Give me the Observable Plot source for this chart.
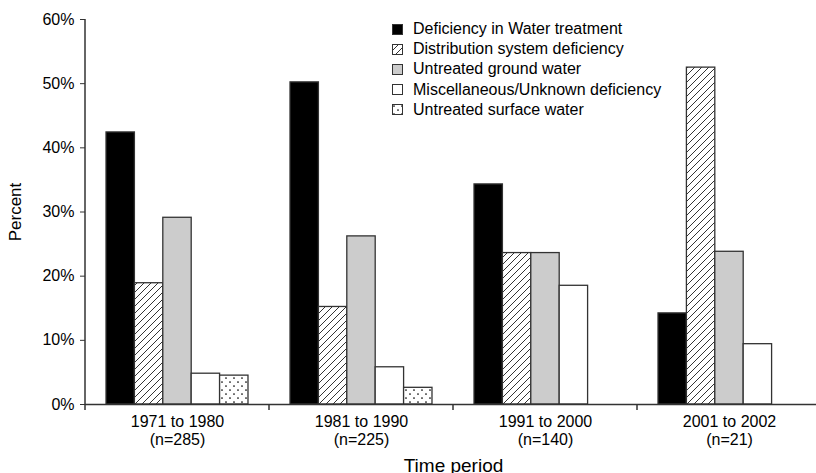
<!DOCTYPE html>
<html><head><meta charset="utf-8">
<script src="https://cdn.jsdelivr.net/npm/d3@7"></script>
<script src="https://cdn.jsdelivr.net/npm/@observablehq/plot@0.6"></script>
<style>
body{margin:0;background:#fff;overflow:hidden;}
#wrap{position:relative;width:816px;height:473px;font-family:"Liberation Sans",Arial,sans-serif;}
#legend{position:absolute;left:392px;top:19px;font-size:16px;color:#000;}
.row{display:flex;align-items:center;height:20.2px;white-space:nowrap;}
.row svg{margin-right:10px;display:block;}
</style></head><body><div id="wrap"><div id="legend"></div></div>
<script>
const periods = ["1971 to 1980", "1981 to 1990", "1991 to 2000", "2001 to 2002"];
const periodCounts = ["(n=285)", "(n=225)", "(n=140)", "(n=21)"];
const categories = [
  "Deficiency in Water treatment",
  "Distribution system deficiency",
  "Untreated ground water",
  "Miscellaneous/Unknown deficiency",
  "Untreated surface water"
];
const waterTreatment = [42.4, 50.2, 34.3, 14.2];
const distribution   = [18.9, 15.2, 23.6, 52.5];
const groundWater    = [29.1, 26.2, 23.6, 23.8];
const miscUnknown    = [4.8, 5.8, 18.5, 9.4];
const surfaceWater   = [4.5, 2.6, 0, 0];
const yTicks = [0, 10, 20, 30, 40, 50, 60];

const series = [waterTreatment, distribution, groundWater, miscUnknown, surfaceWater];
const fills = ["#000000", "url(#hatch)", "#cccccc", "#ffffff", "url(#dots)"];

const data = [];
periods.forEach((p, i) => categories.forEach((c, j) => {
  if (series[j][i] > 0) data.push({period: p, category: c, value: series[j][i]});
}));

const plot = Plot.plot({
  width: 816, height: 473,
  marginLeft: 85, marginRight: 0, marginTop: 19, marginBottom: 69,
  style: {fontFamily: "Liberation Sans, Arial, sans-serif", fontSize: "16px", color: "#000", background: "white", overflow: "visible"},
  fx: {domain: periods, padding: 0, range: [85, 821], round: false},
  x: {domain: categories, paddingInner: 0, paddingOuter: 0.74, axis: null, round: false},
  y: {domain: [0, 60]},
  color: {type: "ordinal", domain: categories, range: fills},
  marks: [
    Plot.barY(data, {fx: "period", x: "category", y: "value", fill: "category", stroke: "#333", strokeWidth: 1.3}),
    Plot.ruleY([0], {stroke: "#333", strokeWidth: 1.5}),
    Plot.axisY({ticks: yTicks, tickFormat: d => d + "%", tickSize: 5, tickPadding: 6, stroke: "#333",
      fontSize: 16, label: null}),
    Plot.axisY({ticks: [], label: "Percent", labelAnchor: "center", labelArrow: "none", labelOffset: 77, fontSize: 17}),
    Plot.axisFx({anchor: "bottom", tickSize: 0, tickPadding: 9, lineHeight: 1.15, fontSize: 16,
      tickFormat: d => d + "\n" + periodCounts[periods.indexOf(d)], label: null}),
    Plot.axisFx({anchor: "bottom", ticks: [], label: "Time period", labelAnchor: "center", labelArrow: "none", labelOffset: 67, fontSize: 19})
  ]
});

const svg = d3.select(plot);
const defs = svg.insert("defs", ":first-child");
function addPatterns(defs, suffix) {
  const h = defs.append("pattern").attr("id", "hatch" + suffix).attr("patternUnits", "userSpaceOnUse")
    .attr("width", 7).attr("height", 7);
  h.append("rect").attr("width", 7).attr("height", 7).attr("fill", "white");
  h.append("path").attr("d", "M0,7 L7,0 M-1.75,1.75 L1.75,-1.75 M5.25,8.75 L8.75,5.25")
    .attr("stroke", "#000").attr("stroke-width", 0.8);
  const d = defs.append("pattern").attr("id", "dots" + suffix).attr("patternUnits", "userSpaceOnUse")
    .attr("width", 8).attr("height", 8);
  d.append("rect").attr("width", 8).attr("height", 8).attr("fill", "white");
  d.append("circle").attr("cx", 2).attr("cy", 2).attr("r", 0.85).attr("fill", "#000");
  d.append("circle").attr("cx", 6).attr("cy", 6).attr("r", 0.85).attr("fill", "#000");
}
addPatterns(defs, "");

const fxS = plot.scale("fx"), yS = plot.scale("y");
const y0 = yS.apply(0), yTop = yS.apply(60);
const extra = svg.append("g").attr("stroke", "#333").attr("stroke-width", 1.5);
const x0 = fxS.apply(periods[0]);
extra.append("line").attr("x1", x0).attr("x2", x0).attr("y1", yTop).attr("y2", y0);
const edges = periods.map(p => fxS.apply(p)).concat([fxS.apply(periods[periods.length - 1]) + fxS.bandwidth]);
edges.forEach(e => extra.append("line").attr("x1", e).attr("x2", e).attr("y1", y0).attr("y2", y0 + 6));

document.getElementById("wrap").prepend(plot);

const legend = document.getElementById("legend");
categories.forEach((c, j) => {
  const row = document.createElement("div");
  row.className = "row";
  const s = d3.create("svg").attr("width", 11).attr("height", 11);
  const ld = s.append("defs");
  addPatterns(ld, "L" + j);
  const f = fills[j].startsWith("url") ? fills[j].replace(")", "L" + j + ")") : fills[j];
  s.append("rect").attr("x", 0.5).attr("y", 0.5).attr("width", 10).attr("height", 10)
    .attr("fill", f).attr("stroke", "#333").attr("stroke-width", 1);
  row.appendChild(s.node());
  const t = document.createElement("span");
  t.textContent = c;
  row.appendChild(t);
  legend.appendChild(row);
});
</script></body></html>
